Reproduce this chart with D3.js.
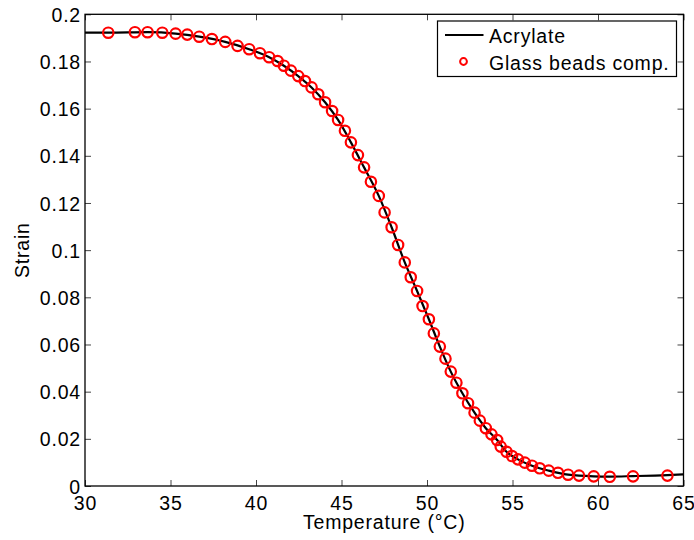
<!DOCTYPE html>
<html>
<head>
<meta charset="utf-8">
<script src="https://cdn.jsdelivr.net/npm/d3@7"></script>
<style>
  html, body { margin: 0; padding: 0; background: #fff; }
  svg { display: block; font-family: "Liberation Sans", Arial, Helvetica, sans-serif; }
</style>
</head>
<body>
<svg id="chart" width="694" height="540"></svg>
<script>
// ---- Data ----
const glassTemp = [31.36, 32.92, 33.66, 34.52, 35.30, 35.98, 36.68, 37.42, 38.20, 38.92,
  39.60, 40.23, 40.77, 41.26, 41.63, 42.04, 42.47, 42.86, 43.25, 43.64,
  44.04, 44.45, 44.80, 45.20, 45.55, 45.96, 46.32, 46.72, 47.18, 47.52,
  47.93, 48.31, 48.70, 49.05, 49.42, 49.74, 50.11, 50.40, 50.75, 51.08,
  51.39, 51.72, 52.07, 52.40, 52.78, 53.09, 53.44, 53.77, 54.10, 54.31,
  54.65, 54.97, 55.32, 55.72, 56.14, 56.59, 57.12, 57.66, 58.25, 58.89,
  59.75, 60.69, 62.05, 64.06];
const glassStrain = [0.1922, 0.1924, 0.1924, 0.1922, 0.1918, 0.1914, 0.1905, 0.1895, 0.1883, 0.1866,
  0.1852, 0.1835, 0.1818, 0.1802, 0.1782, 0.1761, 0.1738, 0.1717, 0.1690, 0.1661,
  0.1627, 0.1590, 0.1552, 0.1506, 0.1457, 0.1403, 0.1351, 0.1290, 0.1230, 0.1160,
  0.1097, 0.1022, 0.0948, 0.0885, 0.0827, 0.0763, 0.0707, 0.0647, 0.0591, 0.0540,
  0.0485, 0.0438, 0.0393, 0.0351, 0.0311, 0.0277, 0.0245, 0.0219, 0.0195, 0.0167,
  0.0145, 0.0127, 0.0113, 0.0099, 0.0086, 0.0075, 0.0065, 0.0056, 0.0048, 0.0044,
  0.0041, 0.0039, 0.0041, 0.0044];
const acrylateTemp = [30, 31.36, 33.66, 35.30, 36.68, 38.20, 39.60, 40.77, 41.63, 42.47,
  43.25, 44.04, 44.80, 45.55, 46.32, 47.18, 47.93, 48.70, 49.42, 50.11,
  50.75, 51.39, 52.07, 52.78, 53.44, 54.10, 54.65, 55.32, 56.14, 57.12,
  58.25, 59.75, 60.69, 62.05, 64.06, 65];
const acrylateStrain = [0.1922, 0.1922, 0.1924, 0.1918, 0.1905, 0.1883, 0.1852, 0.1818, 0.1782, 0.1738,
  0.1690, 0.1627, 0.1552, 0.1457, 0.1351, 0.1230, 0.1097, 0.0948, 0.0827, 0.0707,
  0.0591, 0.0485, 0.0393, 0.0311, 0.0245, 0.0195, 0.0145, 0.0113, 0.0086, 0.0065,
  0.0048, 0.0041, 0.0040, 0.0042, 0.0046, 0.0049];
const xTicks = [30, 35, 40, 45, 50, 55, 60, 65];
const yTicks = [0, 0.02, 0.04, 0.06, 0.08, 0.1, 0.12, 0.14, 0.16, 0.18, 0.2];
const seriesNames = ["Acrylate", "Glass beads comp."];
const xLabel = "Temperature (°C)";
const yLabel = "Strain";

// ---- Layout ----
const mLeft = 85, mRight = 683.5, mTop = 14.3, mBottom = 486;
const svg = d3.select("#chart");
const x = d3.scaleLinear().domain([30, 65]).range([mLeft, mRight]);
const y = d3.scaleLinear().domain([0, 0.2]).range([mBottom, mTop]);
const fontSize = 19.5;
const ls = "0.8px";
const tickLen = 6;

// axes
const fmtY = d => d === 0 ? "0" : String(+d.toFixed(2));
const axB = svg.append("g").attr("transform", `translate(0,${mBottom})`)
  .call(d3.axisBottom(x).tickValues(xTicks).tickSize(-tickLen).tickPadding(10).tickFormat(d3.format("d")));
const axT = svg.append("g").attr("transform", `translate(0,${mTop})`)
  .call(d3.axisTop(x).tickValues(xTicks).tickSize(-tickLen).tickFormat(""));
const axL = svg.append("g").attr("transform", `translate(${mLeft},0)`)
  .call(d3.axisLeft(y).tickValues(yTicks).tickSize(-tickLen).tickPadding(4).tickFormat(fmtY));
const axR = svg.append("g").attr("transform", `translate(${mRight},0)`)
  .call(d3.axisRight(y).tickValues(yTicks).tickSize(-tickLen).tickFormat(""));
[axB, axT, axL, axR].forEach(g => {
  g.select(".domain").remove();
  g.selectAll(".tick line").attr("stroke", "#444").attr("stroke-width", 1);
  g.selectAll(".tick text").attr("font-size", fontSize).attr("fill", "#000")
    .attr("letter-spacing", ls)
    .attr("font-family", "Liberation Sans, Arial, sans-serif");
});
axB.selectAll(".tick text").attr("dy", "0.72em");
axL.selectAll(".tick text").attr("dy", "0.36em");

// frame
svg.append("rect").attr("x", mLeft).attr("y", mTop).attr("width", mRight - mLeft).attr("height", mBottom - mTop)
  .attr("fill", "none").attr("stroke", "#000").attr("stroke-width", 1.3);

// line
const line = d3.line().x(d => x(d[0])).y(d => y(d[1])).curve(d3.curveMonotoneX);
svg.append("path").datum(acrylateTemp.map((t, i) => [t, acrylateStrain[i]]))
  .attr("d", line).attr("fill", "none").attr("stroke", "#000").attr("stroke-width", 2.2);

// circles
svg.append("g").selectAll("circle").data(glassTemp.map((t, i) => [t, glassStrain[i]]))
  .join("circle").attr("cx", d => x(d[0])).attr("cy", d => y(d[1])).attr("r", 5.2)
  .attr("fill", "none").attr("stroke", "#ff0000").attr("stroke-width", 2.2);

// axis labels
svg.append("text").attr("x", (mLeft + mRight) / 2).attr("y", 528.5).attr("text-anchor", "middle")
  .attr("font-size", fontSize).attr("letter-spacing", ls).text(xLabel);
svg.append("text").attr("transform", `translate(28.5,${(mTop + mBottom) / 2}) rotate(-90)`)
  .attr("text-anchor", "middle").attr("font-size", fontSize).attr("letter-spacing", ls).text(yLabel);

// legend
const lg = svg.append("g");
lg.append("rect").attr("x", 437.5).attr("y", 21).attr("width", 239).attr("height", 55.5)
  .attr("fill", "#fff").attr("stroke", "#000").attr("stroke-width", 1.2);
lg.append("line").attr("x1", 445).attr("x2", 483.5).attr("y1", 35).attr("y2", 35)
  .attr("stroke", "#000").attr("stroke-width", 2.2);
lg.append("circle").attr("cx", 463.5).attr("cy", 61.5).attr("r", 3.4)
  .attr("fill", "none").attr("stroke", "#ff0000").attr("stroke-width", 2);
lg.append("text").attr("x", 489).attr("y", 43).attr("font-size", fontSize).attr("letter-spacing", ls).text(seriesNames[0]);
lg.append("text").attr("x", 489).attr("y", 69.5).attr("font-size", fontSize).attr("letter-spacing", ls).text(seriesNames[1]);
</script>
</body>
</html>
